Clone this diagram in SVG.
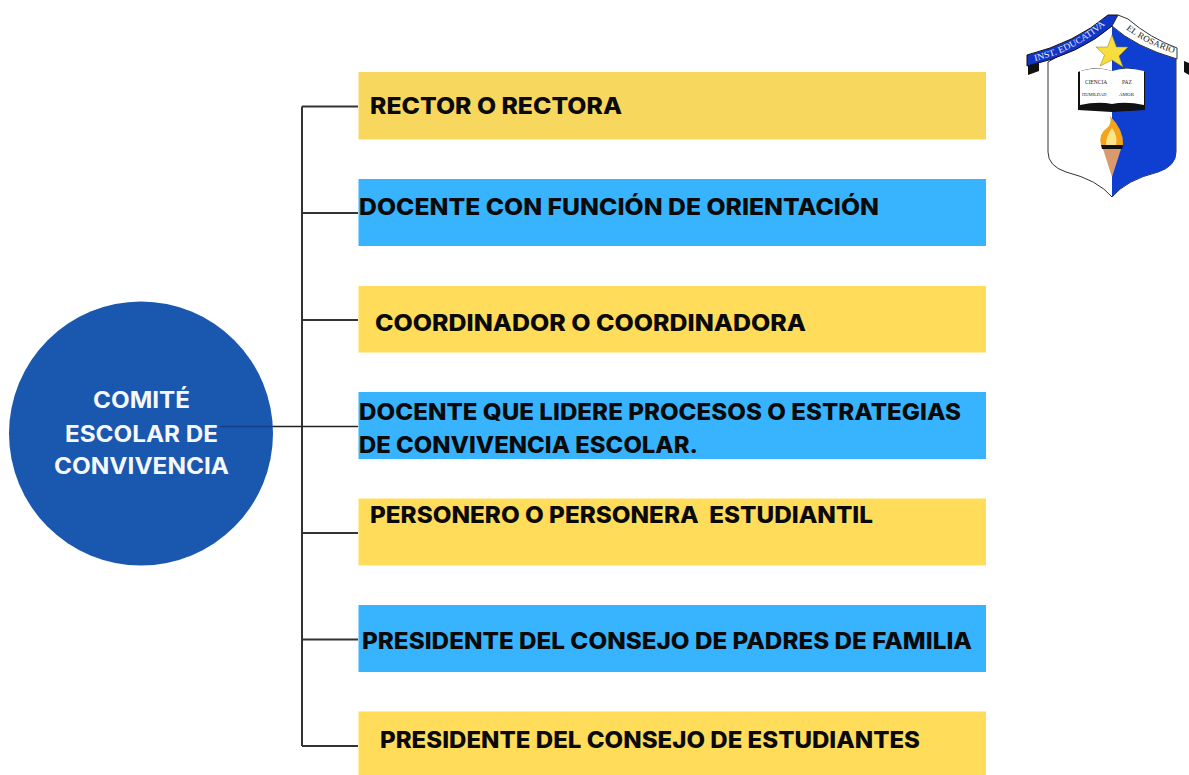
<svg xmlns="http://www.w3.org/2000/svg" width="1189" height="775" viewBox="0 0 1189 775">
<style>
.t{font-family:"Inter","Liberation Sans",sans-serif;font-weight:800;font-size:22.5px;fill:#0a0a0a}
.c{font-family:"Inter","Liberation Sans",sans-serif;font-weight:700;font-size:22.5px;fill:#f6f7fa}
.y{fill:#ffdc5a}.b{fill:#38b4ff}
.l{stroke:#333;stroke-width:2;fill:none}
.s{font-family:"Liberation Serif",serif;fill:#222}
</style>
<defs>
<path id="rb1" d="M1035 61 Q1080 50 1110 20"/>
<path id="rb2" d="M1126 29 Q1148 46 1180 55"/>
</defs>
<rect width="1189" height="775" fill="#fff"/>
<g id="connectors">
<path class="l" d="M302 106.500V746M302 106.500H358M302 213H358M302 320H358M302 533H358M302 639.500H358M302 746H358"/>
</g>
<g id="root"><circle cx="141" cy="433.500" r="132" fill="#1a58b0"/>
<text class="c" x="93" y="408" textLength="97" lengthAdjust="spacingAndGlyphs">COMITÉ</text>
<text class="c" x="65" y="442" textLength="153" lengthAdjust="spacingAndGlyphs">ESCOLAR DE</text>
<text class="c" x="54" y="474" textLength="175" lengthAdjust="spacingAndGlyphs">CONVIVENCIA</text>
</g>
<g id="root-link"><path d="M220 426.500H273" stroke="#123f86" stroke-width="1.500"/><path d="M273 426.500H358" stroke="#222" stroke-width="1.500"/></g>
<g id="n1"><rect x="358.500" y="72" width="627.500" height="67.500" fill="#f8d75f"/><text class="t" x="370" y="114" textLength="252" lengthAdjust="spacingAndGlyphs">RECTOR O RECTORA</text></g>
<g id="n2"><rect class="b" x="358.500" y="179" width="627.500" height="67"/><text class="t" x="359" y="215" textLength="520" lengthAdjust="spacingAndGlyphs">DOCENTE CON FUNCIÓN DE ORIENTACIÓN</text></g>
<g id="n3"><rect class="y" x="358.500" y="286" width="627.500" height="66.500"/><text class="t" x="375" y="331" textLength="431" lengthAdjust="spacingAndGlyphs">COORDINADOR O COORDINADORA</text></g>
<g id="n4"><rect class="b" x="358.500" y="392" width="627.500" height="67"/><text class="t" x="359" y="420" textLength="602" lengthAdjust="spacingAndGlyphs">DOCENTE QUE LIDERE PROCESOS O ESTRATEGIAS</text><text class="t" x="359" y="453" textLength="339" lengthAdjust="spacingAndGlyphs">DE CONVIVENCIA ESCOLAR.</text></g>
<g id="n5"><rect class="y" x="358.500" y="498.500" width="627.500" height="67"/><text class="t" x="370" y="523" textLength="503" lengthAdjust="spacingAndGlyphs" xml:space="preserve">PERSONERO O PERSONERA  ESTUDIANTIL</text></g>
<g id="n6"><rect class="b" x="358.500" y="605" width="627.500" height="67"/><text class="t" x="362" y="649" textLength="610" lengthAdjust="spacingAndGlyphs">PRESIDENTE DEL CONSEJO DE PADRES DE FAMILIA</text></g>
<g id="n7"><rect class="y" x="358.500" y="711.500" width="627.500" height="63.500"/><text class="t" x="380" y="748" textLength="540" lengthAdjust="spacingAndGlyphs">PRESIDENTE DEL CONSEJO DE ESTUDIANTES</text></g>
<g id="crest">
<path d="M1048 62 L1112 25 L1176 57 V152 Q1176 166 1158 172 Q1126 180 1112 197 Q1098 180 1066 172 Q1048 166 1048 152Z" fill="#fff" stroke="#333" stroke-width="1"/>
<path d="M1112 25 L1176 57 V152 Q1176 166 1158 172 Q1126 180 1112 197Z" fill="#0f3fd0"/>
<path d="M1028 60V75L1039 71 L1039 57Z M1184 61 L1189 63V75L1184 72Z" fill="#111"/>
<path d="M1027 55 L1027 66 Q1080 54 1112 26 L1118 15 L1108 15 Q1075 43 1027 55Z" fill="#0f36c8" stroke="#111" stroke-width="1"/>
<path d="M1112 26 L1118 15 L1128 19 Q1150 38 1177 48 V59 Q1135 47 1112 26Z" fill="#fff" stroke="#333" stroke-width="1"/>
<text font-family="Liberation Serif, serif" font-size="9" fill="#e6ebff"><textPath href="#rb1" textLength="80" lengthAdjust="spacingAndGlyphs">INST. EDUCATIVA</textPath></text>
<text class="s" font-size="8.500"><textPath href="#rb2" textLength="54" lengthAdjust="spacingAndGlyphs">EL ROSARIO</textPath></text>
<path d="M1112 35 L1116.500 47 L1128 47 L1119 56 L1123 67 L1112 60 L1100 66 L1104.500 55 L1096 47 L1107.500 47Z" fill="#f7de3c" stroke="#8a7a10" stroke-width=".5"/>
<path d="M1078 72 Q1096 65 1112 71 Q1128 65 1145 72 V110 L1112 112 L1078 110Z" fill="#111"/>
<path d="M1080 71 Q1098 66 1112 71 V104 Q1098 101 1080 105Z" fill="#fff"/>
<path d="M1112 71 Q1126 66 1144 71 V105 Q1126 101 1112 104Z" fill="#fff"/>
<text class="s" font-size="5.500" x="1085" y="84">CIENCIA</text><text class="s" font-size="5.500" x="1122" y="84">PAZ</text>
<text class="s" font-size="4.500" x="1082" y="96">HUMILDAD</text><text class="s" font-size="5" x="1119" y="96">AMOR</text>
<path d="M1110 116 Q1124 130 1123 145 H1101 Q1098 134 1107 128 Q1112 124 1110 116Z" fill="#f4a418"/>
<path d="M1112 128 Q1118 136 1116 145 H1106 Q1106 136 1112 128Z" fill="#fde48a"/>
<path d="M1101 145 H1123 L1122 149 H1102Z" fill="#111"/>
<path d="M1103 149 H1121 L1112 177Z" fill="#d99a6c"/>
</g>
</svg>
